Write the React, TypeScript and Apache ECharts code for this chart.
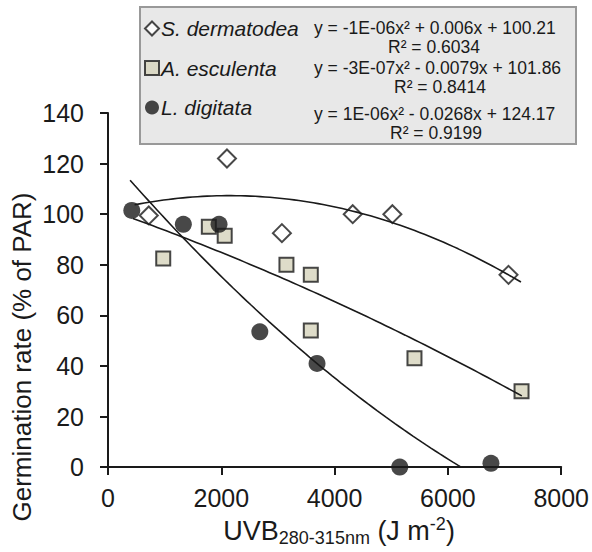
import React, { useEffect, useRef } from "react";
import * as echarts from "echarts";

// ---- data ----
const speciesNames = ["S. dermatodea", "A. esculenta", "L. digitata"];

const xDerm = [720, 2100, 3070, 4320, 5020, 7070];
const yDerm = [99.5, 122, 92.5, 100, 100, 76];

const xEsc = [975, 1780, 2060, 3150, 3580, 3580, 5410, 7300];
const yEsc = [82.5, 95, 91.5, 80, 76, 54, 43, 30];

const xDig = [420, 1330, 1960, 2680, 3690, 5150, 6760];
const yDig = [101.5, 96, 96, 53.5, 41, 0, 1.5];

// polynomial trend lines y = a x^2 + b x + c (as drawn in the reference)
const trendA = [-1.29e-6, -3e-7, 1.0e-6];
const trendB = [0.00553, -0.0079, -0.02604];
const trendC = [101.4, 101.86, 123.45];
const trendStart = [470, 440, 390];
const trendEnd = [7290, 7305, 6730];

const equations = [
  "y = -1E-06x² + 0.006x + 100.21",
  "y = -3E-07x² - 0.0079x + 101.86",
  "y = 1E-06x² - 0.0268x + 124.17",
];
const rSquared = ["R² = 0.6034", "R² = 0.8414", "R² = 0.9199"];

const xTicks = { min: 0, max: 8000, interval: 2000 };
const yTicks = { min: 0, max: 140, interval: 20 };

const FONT = "'Liberation Sans', Arial, Helvetica, sans-serif";
const INK = "#1a1a1a";

function zip(xs: number[], ys: number[]) {
  return xs.map((x, i) => [x, ys[i]]);
}

function trendPoints(i: number) {
  const pts: number[][] = [];
  const n = 80;
  for (let k = 0; k <= n; k++) {
    const x = trendStart[i] + ((trendEnd[i] - trendStart[i]) * k) / n;
    pts.push([x, trendA[i] * x * x + trendB[i] * x + trendC[i]]);
  }
  return pts;
}

export default function App() {
  const ref = useRef<HTMLDivElement>(null);

  useEffect(() => {
    document.body.style.margin = "0";
    if (!ref.current) return;
    const chart = echarts.init(ref.current, null, { renderer: "svg" });

    const eqLeft = 314;
    const eqY = [28, 68, 114];
    const rY = [47, 87, 133];
    const rX = [434, 440, 436];

    const graphics: any[] = [
      {
        type: "rect",
        z: -10,
        shape: { x: 140, y: 7, width: 436, height: 137 },
        style: { fill: "#e8e8e8", stroke: "#999999", lineWidth: 2 },
      },
      {
        type: "text",
        x: 22,
        y: 357,
        rotation: Math.PI / 2,
        style: {
          text: "Germination rate (% of PAR)",
          fontSize: 26,
          fontFamily: FONT,
          fill: INK,
          align: "center",
          verticalAlign: "middle",
        },
      },
    ];
    equations.forEach((eq, i) => {
      graphics.push({
        type: "text",
        x: eqLeft,
        y: eqY[i],
        style: {
          text: eq,
          fontSize: 17.5,
          fontFamily: FONT,
          fill: INK,
          align: "left",
          verticalAlign: "middle",
        },
      });
      graphics.push({
        type: "text",
        x: rX[i],
        y: rY[i],
        style: {
          text: rSquared[i],
          fontSize: 17.5,
          fontFamily: FONT,
          fill: INK,
          align: "center",
          verticalAlign: "middle",
        },
      });
    });

    const lineSeries = [0, 1, 2].map((i) => ({
      type: "line",
      name: "trend" + i,
      data: trendPoints(i),
      showSymbol: false,
      symbol: "none",
      smooth: false,
      z: 5,
      lineStyle: { color: INK, width: 1.6 },
      silent: true,
    }));

    chart.setOption({
      animation: false,
      textStyle: { fontFamily: FONT },
      grid: { left: 108, right: 30, top: 113, bottom: 82, containLabel: false },
      legend: {
        data: speciesNames,
        orient: "vertical",
        left: 144,
        top: 18,
        padding: 0,
        itemWidth: 14,
        itemHeight: 14,
        itemGap: 18.5,
        z: 10,
        textStyle: {
          fontSize: 21,
          fontStyle: "italic",
          fontFamily: FONT,
          color: INK,
          lineHeight: 21,
          padding: [0, 0, 0, -3],
        },
      },
      xAxis: {
        type: "value",
        min: xTicks.min,
        max: xTicks.max,
        interval: xTicks.interval,
        splitLine: { show: false },
        axisLine: { onZero: false, lineStyle: { color: INK, width: 2 } },
        axisTick: { length: 8, lineStyle: { color: INK, width: 2 } },
        axisLabel: {
          fontSize: 25,
          color: INK,
          margin: 18,
          fontFamily: FONT,
          formatter: (v: number) => String(v),
        },
        name: "{a|UVB}{sub|280-315nm}{a| (J m}{sup|-2}{a|)}",
        nameLocation: "middle",
        nameGap: 46,
        nameTextStyle: {
          padding: [0, 0, 0, 9],
          rich: {
            a: { fontSize: 27, lineHeight: 32, color: INK, fontFamily: FONT },
            sub: {
              fontSize: 18,
              lineHeight: 24,
              verticalAlign: "bottom",
              color: INK,
              fontFamily: FONT,
            },
            sup: {
              fontSize: 18,
              lineHeight: 24,
              verticalAlign: "top",
              color: INK,
              fontFamily: FONT,
            },
          },
        },
      },
      yAxis: {
        type: "value",
        min: yTicks.min,
        max: yTicks.max,
        interval: yTicks.interval,
        splitLine: { show: false },
        axisLine: { onZero: false, lineStyle: { color: INK, width: 2 } },
        axisTick: { length: 8, lineStyle: { color: INK, width: 2 } },
        axisLabel: {
          fontSize: 25,
          color: INK,
          margin: 24,
          fontFamily: FONT,
          formatter: (v: number) => String(v),
        },
      },
      graphic: graphics,
      series: [
        {
          type: "scatter",
          name: speciesNames[0],
          data: zip(xDerm, yDerm),
          symbol: "diamond",
          symbolSize: 18,
          z: 3,
          itemStyle: { color: "#ffffff", borderColor: INK, borderWidth: 2 },
        },
        {
          type: "scatter",
          name: speciesNames[1],
          data: zip(xEsc, yEsc),
          symbol: "rect",
          symbolSize: 14,
          z: 3,
          itemStyle: { color: "#d6d3bb", borderColor: INK, borderWidth: 2 },
        },
        {
          type: "scatter",
          name: speciesNames[2],
          data: zip(xDig, yDig),
          symbol: "circle",
          symbolSize: 17,
          z: 4,
          itemStyle: { color: INK },
        },
        ...lineSeries,
      ],
    });

    return () => chart.dispose();
  }, []);

  return <div ref={ref} style={{ width: 592, height: 552 }} />;
}
